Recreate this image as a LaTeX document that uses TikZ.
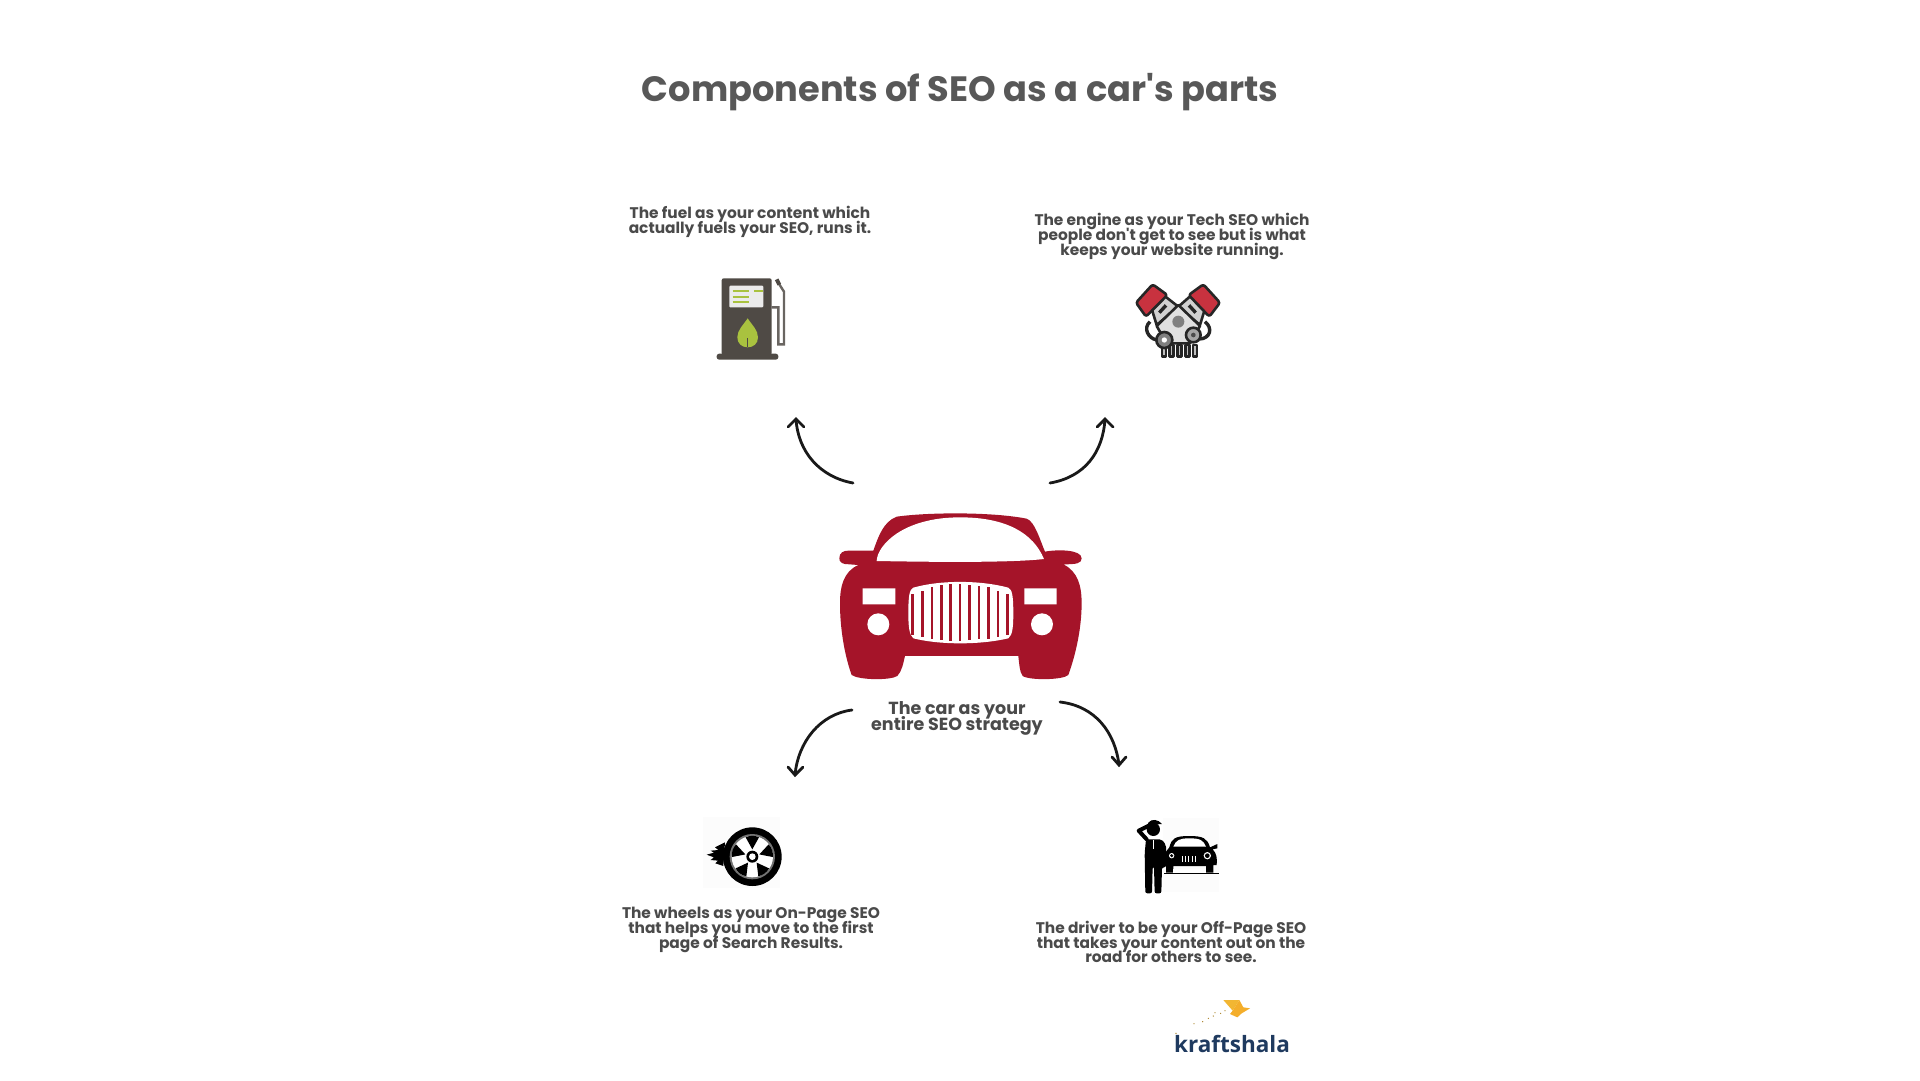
\documentclass[tikz,border=0pt]{standalone}
\usepackage{fontspec}
\newfontfamily\seofont{Poppins}
\newfontfamily\logofont{Open Sans}
\newcommand{\tightlines}{\lineskiplimit=-20pt\relax}
\definecolor{captiongrey}{HTML}{4A4A4A}
\definecolor{titlegrey}{HTML}{585858}
\definecolor{carred}{HTML}{A51429}
\definecolor{capred}{HTML}{C8323F}
\definecolor{pumpgrey}{HTML}{4F4A45}
\definecolor{leafgreen}{HTML}{A9C23F}
\definecolor{logoblue}{HTML}{1F3A5F}
\definecolor{logoyellow}{HTML}{F2B632}
\begin{document}
\begin{tikzpicture}
[x=1pt,y=-1pt,
caption text/.style={align=center,inner sep=0pt,text=captiongrey,font=\seofont\fontsize{15.4}{14.7}\selectfont\bfseries\tightlines},
car text/.style={align=center,inner sep=0pt,text=captiongrey,font=\seofont\fontsize{17.5}{16.8}\selectfont\bfseries\tightlines},
curve arrow/.style={line width=2.8pt,black!90,line cap=round},
tip line/.style={line width=2.8pt,black!90,line cap=round,line join=miter},
zoomed/.style={x=0.3333pt,y=-0.3333pt}]
\useasboundingbox (0,0) rectangle (1920,1080);
\fill[white] (0,0) rectangle (1920,1080);
\node[inner sep=0pt,text=titlegrey,font=\seofont\fontsize{35.2}{40}\selectfont\bfseries] (title) at (960,92) {Components of SEO as a car's parts};
% captions
\node[caption text] (fueltext) at (750,222) {The fuel as your content which\\actually fuels your SEO, runs it.};
\node[caption text] (enginetext) at (1172,236.5) {The engine as your Tech SEO which\\people don't get to see but is what\\keeps your website running.};
\node[car text] (cartext) at (957,718.5) {The car as your\\entire SEO strategy};
\node[caption text] (wheeltext) at (751,930) {The wheels as your On-Page SEO\\that helps you move to the first\\page of Search Results.};
\node[caption text] (drivertext) at (1171,942) {The driver to be your Off-Page SEO\\that takes your content out on the\\road for others to see.};
% arrows
\coordinate (fuelstart) at (853,483);
\coordinate (fuelend) at (796,419);
\coordinate (enginestart) at (1050,483);
\coordinate (engineend) at (1105,419);
\coordinate (wheelstart) at (852,710);
\coordinate (wheelend) at (795,775);
\coordinate (driverstart) at (1060,702);
\coordinate (driverend) at (1119,765);
\draw[curve arrow] (fuelstart) .. controls (820,477) and (798,452) .. (fuelend);
\draw[tip line] (788,427) -- (fuelend) -- (804,427);
\draw[curve arrow] (enginestart) .. controls (1085,477) and (1103,452) .. (engineend);
\draw[tip line] (1097,427) -- (engineend) -- (1113,427);
\draw[curve arrow] (wheelstart) .. controls (820,714) and (798,742) .. (wheelend);
\draw[tip line] (788,767) -- (wheelend) -- (803,767);
\draw[curve arrow] (driverstart) .. controls (1095,706) and (1115,732) .. (driverend);
\draw[tip line] (1112,757) -- (driverend) -- (1126,757);
% car
\begin{scope}[shift={(780,480)},zoomed]
\fill[carred] (178,235) .. controls (178,218) and (190,212) .. (205,212) -- (280,212)
 .. controls (295,170) and (310,125) .. (350,110) .. controls (450,96) and (640,96) .. (740,116)
 .. controls (765,125) and (780,180) .. (795,215) .. controls (830,208) and (905,208) .. (905,235)
 .. controls (905,250) and (890,253) .. (850,253) .. controls (895,275) and (905,320) .. (905,370)
 .. controls (905,450) and (885,530) .. (865,585) .. controls (850,600) and (750,602) .. (728,588)
 .. controls (718,575) and (718,550) .. (715,528) -- (375,528)
 .. controls (370,550) and (365,575) .. (352,588) .. controls (330,602) and (235,600) .. (215,585)
 .. controls (195,530) and (180,450) .. (180,370) .. controls (180,320) and (190,275) .. (235,255)
 -- (195,252) .. controls (185,250) and (178,245) .. (178,235) -- cycle;
\fill[white] (290,243) .. controls (292,195) and (370,112) .. (540,112) .. controls (680,112) and (760,160) .. (792,237)
 .. controls (680,250) and (400,245) .. (290,243) -- cycle;
\fill[white] (248,325) rectangle (346,373) (733,325) rectangle (830,373);
\fill[white] (295,433) circle (33) (786,433) circle (33);
\fill[white] (385,400) .. controls (385,350) and (388,328) .. (400,323) .. controls (480,300) and (600,300) .. (685,323)
 .. controls (697,328) and (700,350) .. (700,400) .. controls (700,440) and (698,465) .. (685,475)
 .. controls (600,495) and (480,495) .. (400,475) .. controls (388,465) and (385,440) .. (385,400) -- cycle;
\foreach \barx/\bartop/\barbot in {398/342/465,427/332/472,456/322/476,484/316/479,512/312/482,540/312/482,568/314/481,597/318/478,626/322/476,654/332/472,683/342/465}
 \fill[carred] (\barx-4,\bartop) rectangle (\barx+4,\barbot);
\end{scope}
% fuel pump
\begin{scope}[shift={(680,260)},zoomed]
\draw[line width=2.4pt,pumpgrey!85] (275,142) -- (295,142) -- (295,253) -- (312,253) -- (312,95) -- (296,70);
\draw[line width=4pt,pumpgrey] (298,74) -- (290,58);
\fill[pumpgrey,rounded corners=2pt] (125,285) -- (125,55) -- (275,55) -- (275,285) -- cycle;
\fill[pumpgrey,rounded corners=2.5pt] (110,281) rectangle (295,299);
\fill[black!8,rounded corners=1pt] (148,77) rectangle (250,142);
\foreach \liney in {92,110,127}
 \draw[line width=2pt,leafgreen] (158,\liney) -- (208,\liney);
\draw[line width=2pt,leafgreen] (222,92) -- (248,92);
\fill[leafgreen] (203,175) .. controls (190,195) and (172,210) .. (172,232) .. controls (172,250) and (185,262) .. (203,262)
 .. controls (221,262) and (234,250) .. (234,232) .. controls (234,210) and (216,195) .. (203,175) -- cycle;
\draw[line width=0.6pt,pumpgrey] (203,262) -- (203,235);
\end{scope}
% engine
\begin{scope}[shift={(1110,270)},zoomed,line width=2.6pt,line join=round,draw=black!85]
\draw[line width=3.4pt] (120,155) .. controls (98,175) and (115,205) .. (140,210) (285,155) .. controls (310,175) and (300,205) .. (270,207);
\filldraw[fill=black!18] (120,100) -- (160,75) -- (205,110) -- (140,165) -- cycle;
\filldraw[fill=black!18] (290,100) -- (245,75) -- (205,110) -- (270,165) -- cycle;
\foreach \finx/\finy in {132/112,148/128}
 \draw[line width=3.4pt] (\finx,\finy) -- (\finx+20,\finy-22);
\foreach \finx/\finy in {273/112,257/128}
 \draw[line width=3.4pt] (\finx,\finy) -- (\finx-20,\finy-22);
\filldraw[fill=capred,rounded corners=2.5pt] (78,98) -- (128,43) -- (172,75) -- (108,140) -- cycle;
\filldraw[fill=capred,rounded corners=2.5pt] (330,98) -- (280,43) -- (236,75) -- (298,140) -- cycle;
\foreach \toothx in {162,185,208,232,255}
 \filldraw[fill=black!25] (\toothx-6,225) rectangle (\toothx+6,260);
\filldraw[fill=black!12] (205,105) -- (270,168) -- (240,220) -- (170,220) -- (140,168) -- cycle;
\fill[black!50] (205,155) circle (18);
\filldraw[fill=black!50] (163,210) circle (24);
\fill[white] (163,210) circle (8);
\filldraw[fill=black!35] (250,195) circle (22);
\fill[black!70] (250,195) circle (7);
\end{scope}
% wheel
\begin{scope}[shift={(690,810)},zoomed]
\fill[black!1] (40,20) rectangle (270,235);
\fill[black] (187,140) circle (88);
\fill[black!55] (187,140) circle (68);
\fill[white] (187,140) circle (62);
\foreach \wedgeang in {-126,-54,18,90,162}
 \fill[black,rotate around={\wedgeang:(187,140)}] (187+22,140) -- (187+58,140-20) .. controls (187+64,140-8) and (187+64,140+8) .. (187+58,140+20) -- cycle;
\fill[black] (187,140) circle (18);
\fill[white] (187,140) circle (10);
\fill[black] (105,97) -- (75,112) -- (85,120) -- (62,122) -- (72,128) -- (50,134) -- (72,142) -- (62,150) -- (84,152) -- (76,160) -- (100,168) -- cycle;
\end{scope}
% driver
\begin{scope}[shift={(1120,810)},zoomed]
\fill[black!1] (130,25) rectangle (298,245);
\fill[black] (85,38) .. controls (95,25) and (115,28) .. (126,42) -- (82,45) -- cycle;
\fill[black] (100,58) circle (20);
\draw[line width=4pt,black,line cap=round,line join=round] (84,48) -- (56,62) -- (80,88);
\fill[black,rounded corners=2pt] (78,88) -- (125,88) -- (138,105) -- (138,172) -- (126,172) -- (124,250) -- (104,250) -- (102,170) -- (98,170) -- (96,250) -- (76,250) -- (74,130) -- cycle;
\draw[white,line width=0.6pt] (100,90) -- (100,118);
\fill[black] (148,112) .. controls (155,85) and (165,78) .. (208,78) .. controls (250,78) and (262,85) .. (270,112) -- (292,102) -- (292,115) -- (278,118) .. controls (290,130) and (292,145) .. (290,165) -- (280,165) -- (280,188) -- (258,188) -- (258,168) -- (160,168) -- (160,188) -- (138,188) -- (138,125) -- cycle;
\fill[white] (160,110) .. controls (168,90) and (178,85) .. (208,85) .. controls (240,85) and (250,90) .. (258,110) -- cycle;
\fill[white] (262,137) circle (11);
\fill[black] (262,137) circle (7);
\fill[white] (155,137) circle (8);
\fill[black] (155,137) circle (5);
\foreach \grillx in {186,196,206,216,226}
 \draw[white,line width=1pt] (\grillx,138) -- (\grillx,156);
\fill[white] (160,177) rectangle (258,188);
\draw[black,line width=1pt] (132,191) -- (298,191);
\end{scope}
% logo
\node[inner sep=0pt,text=logoblue,font=\logofont\fontsize{22.5}{24}\selectfont\bfseries] (logotext) at (1232,1044) {kraftshala};
\begin{scope}[shift={(1160,990)},zoomed]
\fill[logoyellow] (190,30) -- (238,30) -- (218,62) -- cycle;
\fill[logoyellow!85!orange] (238,30) -- (250,52) -- (270,55) -- (245,70) -- (232,82) -- (210,72) -- (218,62) -- cycle;
\foreach \dotx/\doty in {195/62,182/70,165/68,160/78,145/85,128/95,102/101,48/130}
 \fill[logoyellow!70!black] (\dotx,\doty) circle (2);
\end{scope}
\end{tikzpicture}
\end{document}
